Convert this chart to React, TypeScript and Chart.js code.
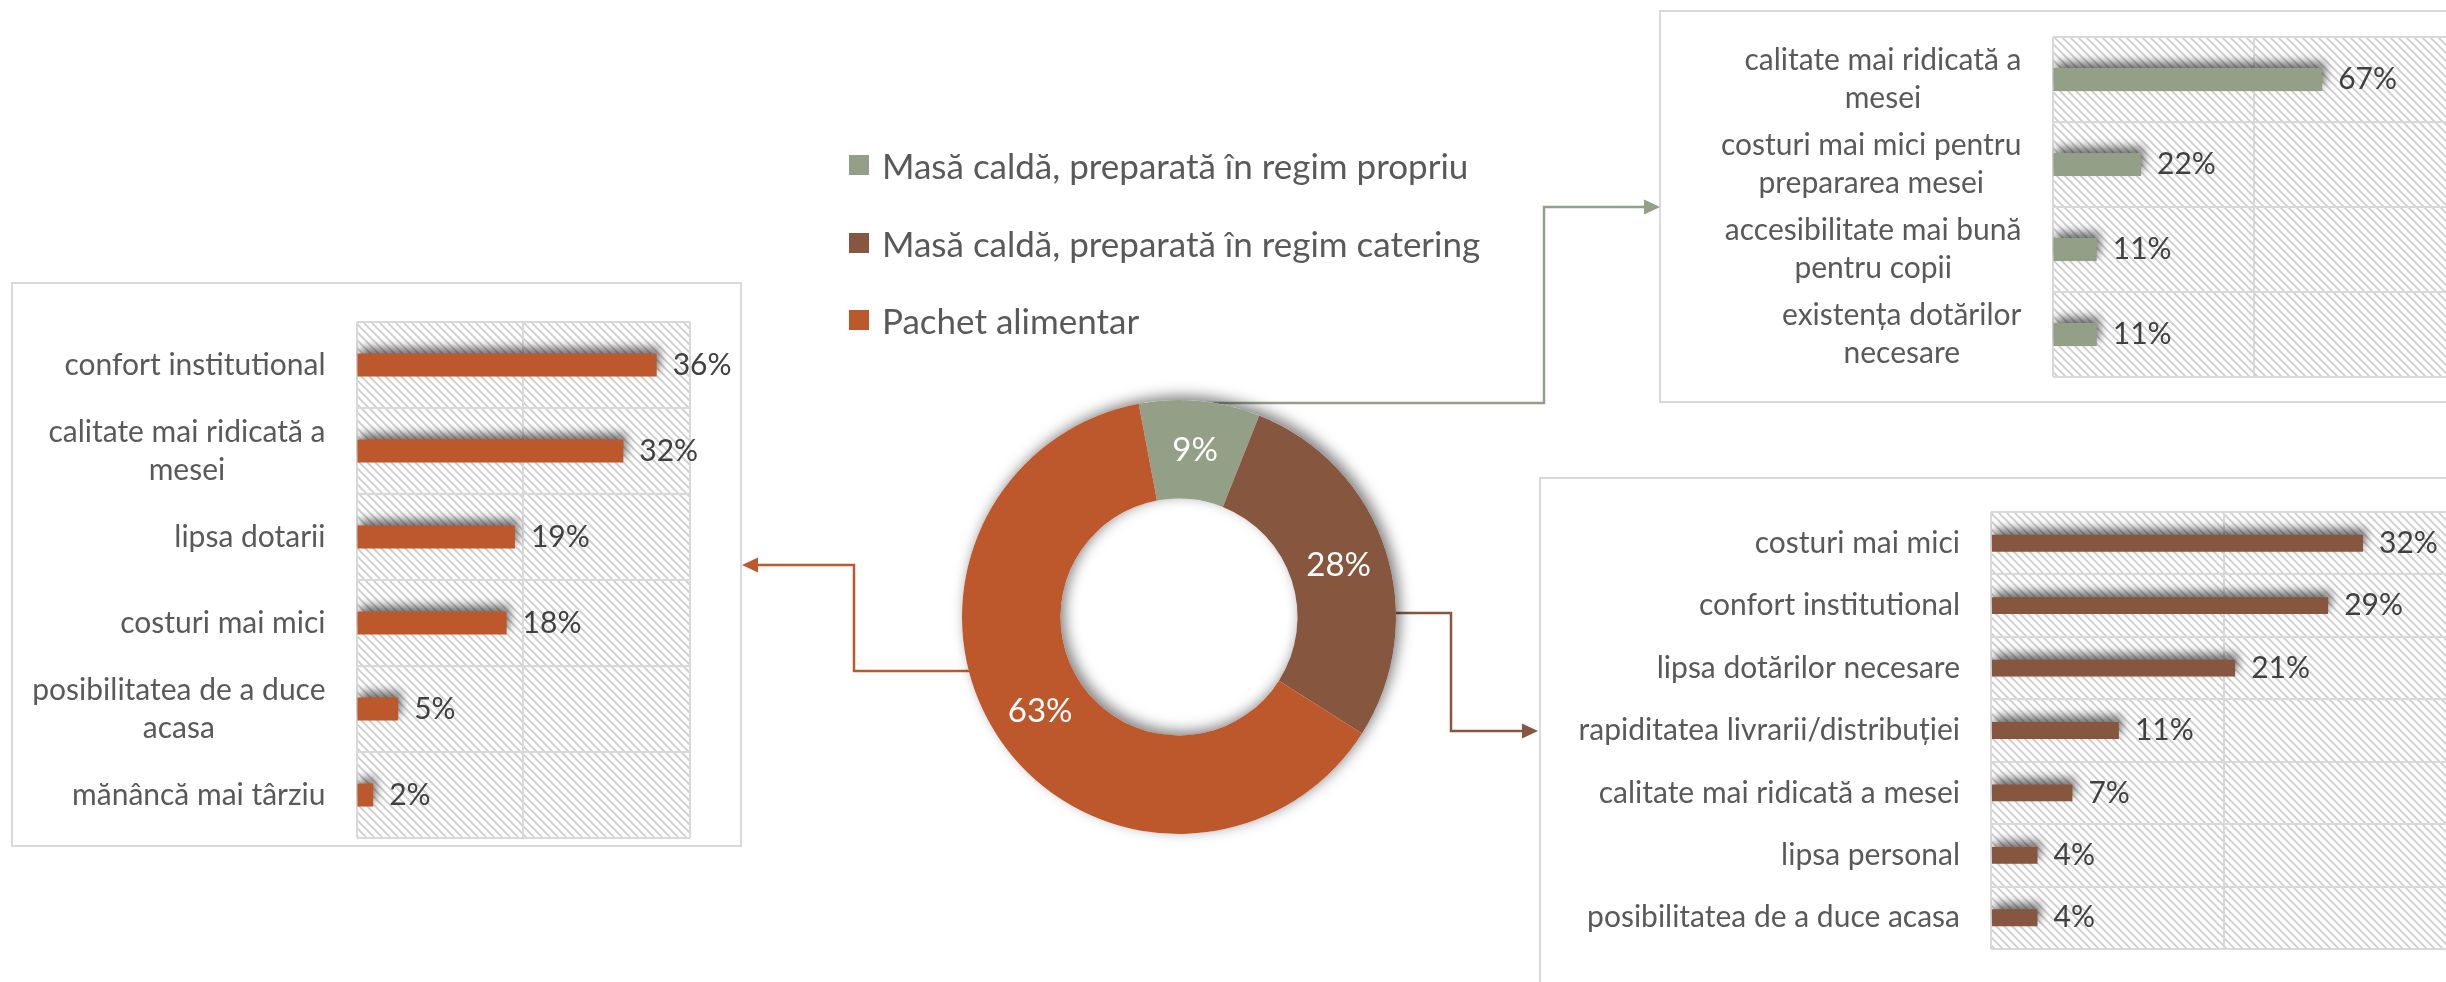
import React, { useEffect, useRef } from "react";
import { Chart, registerables } from "chart.js";

Chart.register(...registerables);

// ---------- data ----------
const pieLabels = [
  "Masă caldă, preparată în regim propriu",
  "Masă caldă, preparată în regim catering",
  "Pachet alimentar",
];
const pieValues = [9, 28, 63];
const pieColors = ["#949f88", "#86563f", "#bd582c"];

const pachetCategories: (string | string[])[] = [
  "confort institutional",
  ["calitate mai ridicată a", "mesei"],
  "lipsa dotarii",
  "costuri mai mici",
  ["posibilitatea de a duce", "acasa"],
  "mănâncă mai târziu",
];
const pachetValues = [36, 32, 19, 18, 5, 2];
const pachetAxis = { max: 40, step: 20 };

const propriuCategories: (string | string[])[] = [
  ["calitate mai ridicată a", "mesei"],
  ["costuri mai mici pentru", "prepararea mesei"],
  ["accesibilitate mai bună", "pentru copii"],
  ["existența dotărilor", "necesare"],
];
const propriuValues = [67, 22, 11, 11];
const propriuAxis = { max: 100, step: 50 };

const cateringCategories: (string | string[])[] = [
  "costuri mai mici",
  "confort institutional",
  "lipsa dotărilor necesare",
  "rapiditatea livrarii/distribuției",
  "calitate mai ridicată a mesei",
  "lipsa personal",
  "posibilitatea de a duce acasa",
];
const cateringValues = [32, 29, 21, 11, 7, 4, 4];
const cateringAxis = { max: 40, step: 20 };

// ---------- style ----------
const FONT = "Lato, 'Open Sans', sans-serif";
const TEXT = "#595959";
const VALUE_TEXT = "#404040";
const GRID = "#d9d9d9";
const LABEL_SIZE = 30;
const LINE_H = 38;
const LABEL_GAP = 31;
const VALUE_GAP = 16;

type Box = { x: number; y: number; w: number; h: number };
type Plot = { left: number; right: number; top: number; bottom: number };

function makeHatch(ctx: CanvasRenderingContext2D): CanvasPattern | string {
  const c = document.createElement("canvas");
  c.width = 8;
  c.height = 8;
  const g = c.getContext("2d");
  if (!g) return "#fff";
  g.fillStyle = "#ffffff";
  g.fillRect(0, 0, 8, 8);
  g.strokeStyle = "#cfcfcf";
  g.lineWidth = 1.9;
  g.beginPath();
  g.moveTo(-2, -2);
  g.lineTo(10, 10);
  g.moveTo(6, -2);
  g.lineTo(10, 2);
  g.moveTo(-2, 6);
  g.lineTo(2, 10);
  g.stroke();
  return ctx.createPattern(c, "repeat") || "#fff";
}

const hatchPlugin = {
  id: "hatch",
  beforeDraw(chart: any) {
    const { ctx, chartArea: a } = chart;
    ctx.save();
    ctx.fillStyle = makeHatch(ctx);
    ctx.fillRect(a.left, a.top, a.right - a.left, a.bottom - a.top);
    ctx.restore();
  },
};

const barShadowPlugin = {
  id: "barShadow",
  beforeDatasetsDraw(chart: any) {
    const ctx = chart.ctx;
    ctx.save();
    ctx.shadowColor = "rgba(0,0,0,0.55)";
    ctx.shadowBlur = 10;
    ctx.shadowOffsetX = 3;
    ctx.shadowOffsetY = -6;
  },
  afterDatasetsDraw(chart: any) {
    chart.ctx.restore();
  },
};

const barLabelsPlugin = {
  id: "barLabels",
  afterDraw(chart: any) {
    const ctx: CanvasRenderingContext2D = chart.ctx;
    const yScale = chart.scales.y;
    const area = chart.chartArea;
    ctx.save();
    ctx.font = `${LABEL_SIZE}px ${FONT}`;
    ctx.textBaseline = "middle";
    ctx.textAlign = "center";
    ctx.fillStyle = TEXT;
    (chart.data.labels as any[]).forEach((lab, i) => {
      const lines: string[] = Array.isArray(lab) ? lab : [lab];
      const w = Math.max(...lines.map((l) => ctx.measureText(l).width));
      const cx = area.left - LABEL_GAP - w / 2;
      const cy = yScale.getPixelForTick(i);
      lines.forEach((l, j) =>
        ctx.fillText(l, cx, cy + (j - (lines.length - 1) / 2) * LINE_H)
      );
    });
    const meta = chart.getDatasetMeta(0);
    ctx.textAlign = "left";
    ctx.fillStyle = VALUE_TEXT;
    meta.data.forEach((el: any, i: number) => {
      ctx.fillText(`${chart.data.datasets[0].data[i]}%`, el.x + VALUE_GAP, el.y);
    });
    ctx.restore();
  },
};

function BarPanel(props: {
  categories: (string | string[])[];
  values: number[];
  color: string;
  max: number;
  step: number;
  panel: Box;
  plot: Plot;
}) {
  const { categories, values, color, max, step, panel, plot } = props;
  const ref = useRef<HTMLCanvasElement>(null);
  useEffect(() => {
    const canvas = ref.current;
    if (!canvas) return;
    const yAxisWidth = plot.left - panel.x;
    const chart = new Chart(canvas, {
      type: "bar",
      data: {
        labels: categories as any,
        datasets: [
          {
            data: values,
            backgroundColor: color,
            borderWidth: 0,
            barPercentage: 0.27,
            categoryPercentage: 1,
          },
        ],
      },
      options: {
        indexAxis: "y",
        responsive: false,
        animation: false,
        devicePixelRatio: 1,
        layout: {
          padding: {
            left: 0,
            right: panel.x + panel.w - plot.right,
            top: plot.top - panel.y,
            bottom: panel.y + panel.h - plot.bottom,
          },
        },
        scales: {
          x: {
            min: 0,
            max,
            ticks: { stepSize: step, display: false },
            grid: { color: GRID, lineWidth: 2, drawTicks: false },
            border: { display: false },
            afterFit: (s: any) => {
              s.height = 0;
            },
          },
          y: {
            ticks: { display: false },
            grid: { color: GRID, lineWidth: 2, drawTicks: false, offset: true },
            border: { display: false },
            afterFit: (s: any) => {
              s.width = yAxisWidth;
            },
          },
        },
        plugins: { legend: { display: false }, tooltip: { enabled: false } },
      } as any,
      plugins: [hatchPlugin, barShadowPlugin, barLabelsPlugin],
    });
    return () => chart.destroy();
  }, []);
  return (
    <>
      <div
        style={{
          position: "absolute",
          left: panel.x,
          top: panel.y,
          width: panel.w,
          height: panel.h,
          border: `2px solid ${GRID}`,
          boxSizing: "border-box",
          background: "#fff",
        }}
      />
      <canvas
        ref={ref}
        width={panel.w}
        height={panel.h}
        style={{ position: "absolute", left: panel.x, top: panel.y, width: panel.w, height: panel.h }}
      />
    </>
  );
}

// ---------- doughnut ----------
const DONUT = { cx: 1179, cy: 617, r: 217, size: 500 };

const donutShadowPlugin = {
  id: "donutShadow",
  beforeDatasetsDraw(chart: any) {
    const el = chart.getDatasetMeta(0).data[0];
    if (!el) return;
    const { x, y, innerRadius, outerRadius } = el.getProps(
      ["x", "y", "innerRadius", "outerRadius"],
      true
    );
    const ctx: CanvasRenderingContext2D = chart.ctx;
    ctx.save();
    ctx.shadowColor = "rgba(0,0,0,0.5)";
    ctx.shadowBlur = 14;
    ctx.shadowOffsetX = 4;
    ctx.shadowOffsetY = -4;
    ctx.fillStyle = "#ffffff";
    ctx.beginPath();
    ctx.arc(x, y, outerRadius, 0, Math.PI * 2);
    ctx.moveTo(x + innerRadius, y);
    ctx.arc(x, y, innerRadius, 0, Math.PI * 2, true);
    ctx.fill();
    ctx.restore();
  },
};

const donutLabelsPlugin = {
  id: "donutLabels",
  afterDatasetsDraw(chart: any) {
    const ctx: CanvasRenderingContext2D = chart.ctx;
    const meta = chart.getDatasetMeta(0);
    ctx.save();
    ctx.font = `33px ${FONT}`;
    ctx.fillStyle = "#ffffff";
    ctx.textAlign = "center";
    ctx.textBaseline = "middle";
    meta.data.forEach((el: any, i: number) => {
      const { x, y, startAngle, endAngle, innerRadius, outerRadius } = el.getProps(
        ["x", "y", "startAngle", "endAngle", "innerRadius", "outerRadius"],
        true
      );
      const mid = (startAngle + endAngle) / 2;
      const rr = (innerRadius + outerRadius) / 2;
      ctx.fillText(
        `${chart.data.datasets[0].data[i]}%`,
        x + Math.cos(mid) * rr,
        y + Math.sin(mid) * rr
      );
    });
    ctx.restore();
  },
};

function Donut() {
  const ref = useRef<HTMLCanvasElement>(null);
  useEffect(() => {
    const canvas = ref.current;
    if (!canvas) return;
    const pad = DONUT.size / 2 - DONUT.r;
    const chart = new Chart(canvas, {
      type: "doughnut",
      data: {
        labels: pieLabels,
        datasets: [{ data: pieValues, backgroundColor: pieColors, borderWidth: 0 }],
      },
      options: {
        responsive: false,
        animation: false,
        devicePixelRatio: 1,
        cutout: "54.6%",
        rotation: -10.7,
        layout: { padding: pad },
        plugins: { legend: { display: false }, tooltip: { enabled: false } },
      } as any,
      plugins: [donutShadowPlugin, donutLabelsPlugin],
    });
    return () => chart.destroy();
  }, []);
  const left = DONUT.cx - DONUT.size / 2;
  const top = DONUT.cy - DONUT.size / 2;
  return (
    <canvas
      ref={ref}
      width={DONUT.size}
      height={DONUT.size}
      style={{ position: "absolute", left, top, width: DONUT.size, height: DONUT.size }}
    />
  );
}

// ---------- layout (decorative connectors & legend placement) ----------
const legendLeft = 849;
const legendRowCenters = [165, 243, 320];

const connectors = [
  { color: pieColors[0], pts: [[1200, 403], [1544, 403], [1544, 207], [1646, 207]], tip: [1660, 207], dir: 1 },
  { color: pieColors[1], pts: [[1380, 613], [1451, 613], [1451, 731], [1524, 731]], tip: [1538, 731], dir: 1 },
  { color: pieColors[2], pts: [[975, 671], [854, 671], [854, 565], [756, 565]], tip: [742, 565], dir: -1 },
];

export default function App() {
  useEffect(() => {
    document.body.style.margin = "0";
  }, []);
  return (
    <div
      style={{
        position: "fixed",
        left: 0,
        top: 0,
        width: 2446,
        height: 982,
        overflow: "hidden",
        background: "#ffffff",
      }}
    >
      <BarPanel
        categories={pachetCategories}
        values={pachetValues}
        color={pieColors[2]}
        max={pachetAxis.max}
        step={pachetAxis.step}
        panel={{ x: 11, y: 282, w: 731, h: 565 }}
        plot={{ left: 356.5, right: 690, top: 322, bottom: 838 }}
      />
      <BarPanel
        categories={propriuCategories}
        values={propriuValues}
        color={pieColors[0]}
        max={propriuAxis.max}
        step={propriuAxis.step}
        panel={{ x: 1659, y: 10, w: 820, h: 393 }}
        plot={{ left: 2052.5, right: 2455, top: 37, bottom: 377 }}
      />
      <BarPanel
        categories={cateringCategories}
        values={cateringValues}
        color={pieColors[1]}
        max={cateringAxis.max}
        step={cateringAxis.step}
        panel={{ x: 1539, y: 477, w: 940, h: 540 }}
        plot={{ left: 1991, right: 2456, top: 512, bottom: 949 }}
      />
      <svg
        width={2446}
        height={982}
        style={{ position: "absolute", left: 0, top: 0, pointerEvents: "none" }}
      >
        {connectors.map((c, i) => {
          const [tx, ty] = c.tip;
          const bx = tx - c.dir * 16;
          return (
            <g key={i}>
              <polyline
                points={c.pts.map((p) => p.join(",")).join(" ")}
                fill="none"
                stroke={c.color}
                strokeWidth={2.5}
              />
              <polygon points={`${tx},${ty} ${bx},${ty - 7.5} ${bx},${ty + 7.5}`} fill={c.color} />
            </g>
          );
        })}
      </svg>
      {pieLabels.map((l, i) => (
        <div
          key={i}
          style={{
            position: "absolute",
            left: legendLeft,
            top: legendRowCenters[i] - 22,
            height: 44,
            display: "flex",
            alignItems: "center",
            font: `35px ${FONT}`,
            color: TEXT,
            whiteSpace: "nowrap",
          }}
        >
          <span
            style={{
              display: "inline-block",
              width: 20,
              height: 20,
              background: pieColors[i],
              marginRight: 13,
            }}
          />
          {l}
        </div>
      ))}
      <Donut />
    </div>
  );
}
